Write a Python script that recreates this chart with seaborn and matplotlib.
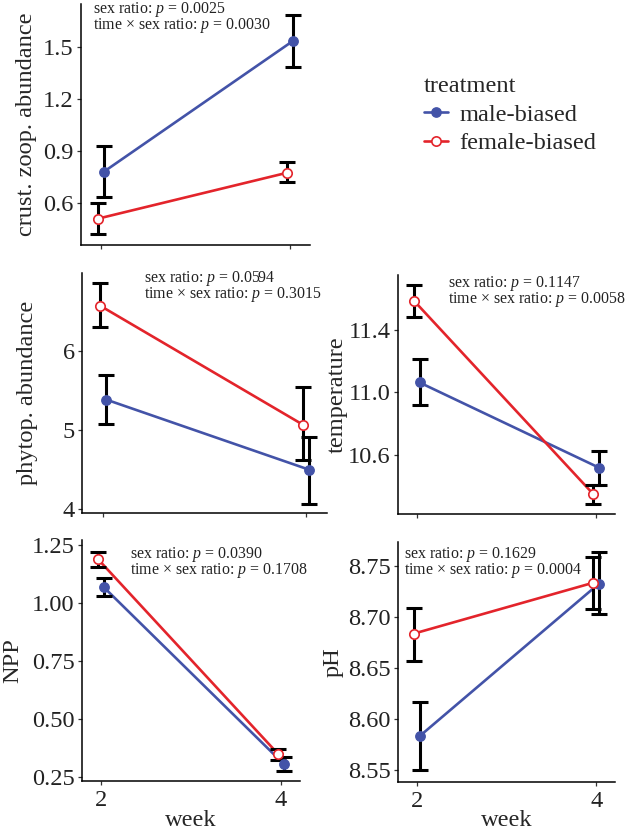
import numpy as np
import pandas as pd
import matplotlib
matplotlib.use("Agg")
import matplotlib.pyplot as plt
import seaborn as sns
from matplotlib.lines import Line2D

# ---------------- data ----------------
weeks = [2, 4]
treatments = ["male-biased", "female-biased"]

crust_male = [0.780, 1.535]
crust_male_lo = [0.635, 1.385]
crust_male_hi = [0.930, 1.685]
crust_female = [0.510, 0.775]
crust_female_lo = [0.420, 0.720]
crust_female_hi = [0.600, 0.835]

phyto_male = [5.386, 4.500]
phyto_male_lo = [5.080, 4.070]
phyto_male_hi = [5.695, 4.915]
phyto_female = [6.575, 5.070]
phyto_female_lo = [6.300, 4.615]
phyto_female_hi = [6.860, 5.540]

temp_male = [11.064, 10.519]
temp_male_lo = [10.920, 10.410]
temp_male_hi = [11.213, 10.626]
temp_female = [11.586, 10.348]
temp_female_lo = [11.485, 10.284]
temp_female_hi = [11.688, 10.408]

npp_male = [1.069, 0.307]
npp_male_lo = [1.029, 0.279]
npp_male_hi = [1.108, 0.336]
npp_female = [1.188, 0.349]
npp_female_lo = [1.156, 0.325]
npp_female_hi = [1.221, 0.372]

ph_male = [8.583, 8.733]
ph_male_lo = [8.550, 8.703]
ph_male_hi = [8.617, 8.764]
ph_female = [8.684, 8.734]
ph_female_lo = [8.657, 8.708]
ph_female_hi = [8.709, 8.759]

p_sex = ["0.0025", "0.0594", "0.1147", "0.0390", "0.1629"]
p_int = ["0.0030", "0.3015", "0.0058", "0.1708", "0.0004"]
ylabels = ["crust. zoop. abundance", "phytop. abundance", "temperature", "NPP", "pH"]
yticks = [[0.6, 0.9, 1.2, 1.5], [4, 5, 6], [10.6, 11.0, 11.4],
          [0.25, 0.50, 0.75, 1.00, 1.25], [8.55, 8.60, 8.65, 8.70, 8.75]]
ytick_fmt = ["{:.1f}", "{:.0f}", "{:.1f}", "{:.2f}", "{:.2f}"]
ylims = [(0.358, 1.748), (3.95, 6.99), (10.222, 11.752), (0.234, 1.2715), (8.538, 8.774)]

series = [
    (crust_male, crust_male_lo, crust_male_hi, crust_female, crust_female_lo, crust_female_hi),
    (phyto_male, phyto_male_lo, phyto_male_hi, phyto_female, phyto_female_lo, phyto_female_hi),
    (temp_male, temp_male_lo, temp_male_hi, temp_female, temp_female_lo, temp_female_hi),
    (npp_male, npp_male_lo, npp_male_hi, npp_female, npp_female_lo, npp_female_hi),
    (ph_male, ph_male_lo, ph_male_hi, ph_female, ph_female_lo, ph_female_hi),
]

# ---------------- style ----------------
sns.set_style("ticks")
plt.rcParams["font.family"] = ["Liberation Serif", "DejaVu Serif"]
plt.rcParams["mathtext.fontset"] = "custom"
plt.rcParams["mathtext.rm"] = "Liberation Serif"
plt.rcParams["mathtext.it"] = "Liberation Serif:italic"

BLUE = "#4353A8"
RED = "#E3242B"
palette = {"male-biased": BLUE, "female-biased": RED}
dodge = {"male-biased": 0.03, "female-biased": -0.03}
BIG = 17.6
SMALL = 11.4

W, H = 630, 834
fig = plt.figure(figsize=(W / 100, H / 100), dpi=100)

# panel boxes in pixels: left, right, top, bottom
boxes = [(81, 310, 4, 245), (82, 327, 273, 513), (398, 615, 275, 514),
         (82, 300, 540, 781), (398, 615, 542, 782)]
ylabel_x = [27, 28, 337, 13, 333]
annot_xy = [(93, 9), (144, 278), (448, 283), (130, 554), (404, 554)]


def fx(px):
    return px / W


def fy(py):
    return 1 - py / H


for i, (l, r, t, b) in enumerate(boxes):
    ax = fig.add_axes([fx(l), fy(b), (r - l) / W, (b - t) / H])
    m, mlo, mhi, f, flo, fhi = series[i]
    df = pd.DataFrame({
        "week": weeks * 2,
        "treatment": [treatments[0]] * 2 + [treatments[1]] * 2,
        "mean": m + f,
        "lo": mlo + flo,
        "hi": mhi + fhi,
    })
    df["x"] = df["week"] + df["treatment"].map(dodge)

    sns.lineplot(data=df, x="x", y="mean", hue="treatment", hue_order=treatments,
                 palette=palette, estimator=None, linewidth=1.9, legend=False,
                 ax=ax, zorder=2)
    ax.errorbar(df["x"], df["mean"], yerr=[df["mean"] - df["lo"], df["hi"] - df["mean"]],
                fmt="none", ecolor="black", elinewidth=2.2, capsize=6, capthick=2.2,
                zorder=3)
    sub_m = df[df["treatment"] == treatments[0]]
    sub_f = df[df["treatment"] == treatments[1]]
    sns.scatterplot(data=sub_m, x="x", y="mean", color=BLUE, edgecolor=BLUE, s=46,
                    linewidth=1.0, ax=ax, zorder=4, legend=False)
    sns.scatterplot(data=sub_f, x="x", y="mean", color="white", edgecolor=RED, s=46,
                    linewidth=1.2, ax=ax, zorder=4, legend=False)

    ax.set_xlim(1.79, 4.21)
    ax.set_ylim(*ylims[i])
    ax.set_xticks(weeks)
    ax.set_yticks(yticks[i])
    ax.set_yticklabels([ytick_fmt[i].format(v) for v in yticks[i]])
    if i >= 3:
        ax.set_xticklabels([str(w) for w in weeks])
        ax.set_xlabel("week", fontsize=BIG, va="center")
        ax.xaxis.set_label_coords(0.5, -(821 - b) / (b - t))
    else:
        ax.set_xticklabels([])
        ax.set_xlabel("")
    ax.set_ylabel(ylabels[i], fontsize=BIG, va="center", ha="center")
    ax.yaxis.set_label_coords((ylabel_x[i] - l) / (r - l), 0.5)

    sns.despine(ax=ax)
    for s in ["left", "bottom"]:
        ax.spines[s].set_color("black")
        ax.spines[s].set_linewidth(1.1)
    ax.tick_params(axis="both", length=3.2, width=0.9, color="#333333",
                   labelsize=BIG, labelcolor="#222222", pad=2)
    ax.tick_params(axis="x", pad=3)
    ax.set_facecolor("white")

    ax_x, ax_y = annot_xy[i]
    annot = (r"sex ratio: $\mathit{p}$ = " + p_sex[i] + "\n"
             + "time \u00d7 sex ratio: " + r"$\mathit{p}$ = " + p_int[i])
    fig.text(fx(ax_x), fy(ax_y + 8.5), annot, fontsize=SMALL, va="center",
             ha="left", color="#222222", linespacing=0.82)

handles = [
    Line2D([0], [0], color=BLUE, lw=1.9, marker="o", ms=6.7, mfc=BLUE, mec=BLUE),
    Line2D([0], [0], color=RED, lw=1.9, marker="o", ms=6.7, mfc="white", mec=RED, mew=1.2),
]
leg = fig.legend(handles, treatments, title="treatment", loc="upper left",
                 bbox_to_anchor=(fx(424), fy(76)), frameon=False, fontsize=BIG,
                 title_fontsize=BIG, handlelength=1.0, handletextpad=0.45,
                 labelspacing=0.27, borderpad=0, borderaxespad=0)
leg._legend_box.align = "left"

fig.savefig("out.png", dpi=100, facecolor="white")
